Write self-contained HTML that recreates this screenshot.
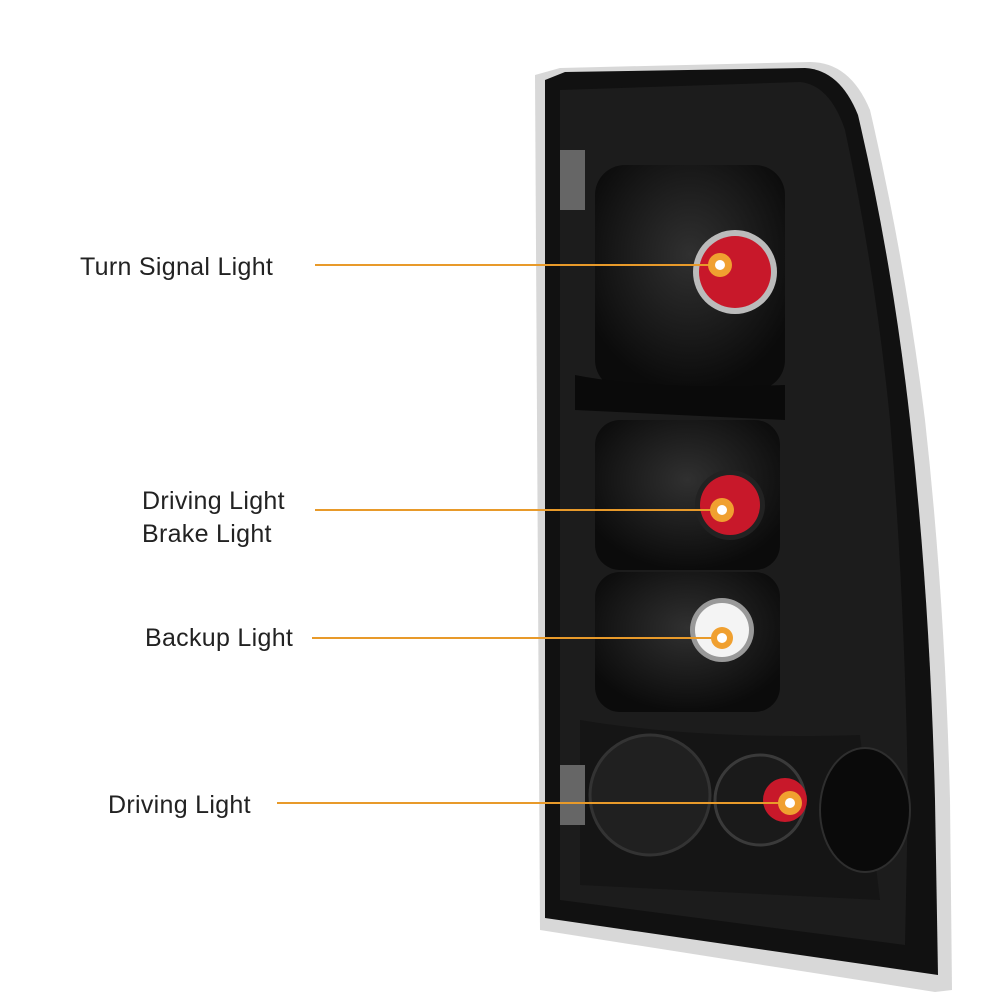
<!DOCTYPE html>
<html><head><style>
html,body{margin:0;padding:0;background:#fff;width:1000px;height:1000px;overflow:hidden}
.l{position:absolute;font-family:"Liberation Sans",sans-serif;font-size:25px;color:#222;letter-spacing:0.3px}
</style></head><body>
<svg width="1000" height="1000" style="position:absolute;left:0;top:0">
<defs>
<radialGradient id="g1" cx="50%" cy="40%" r="60%"><stop offset="0" stop-color="#303030"/><stop offset="1" stop-color="#0b0b0b"/></radialGradient>
</defs>
<path d="M535 75 L560 68 L810 62 Q850 62 870 110 Q905 260 925 420 Q945 600 950 800 L952 990 L935 992 L540 930 Z" fill="#d8d8d8"/>
<path d="M545 80 L565 72 L805 68 Q840 70 858 115 Q892 260 910 420 Q930 600 935 800 L938 975 L545 918 Z" fill="#111"/>
<path d="M560 90 L800 82 Q830 85 845 130 Q875 270 890 420 Q905 600 908 800 L905 945 L560 900 Z" fill="#1c1c1c"/>
<rect x="595" y="165" width="190" height="225" rx="30" fill="url(#g1)"/>
<rect x="595" y="420" width="185" height="150" rx="25" fill="url(#g1)"/>
<rect x="595" y="572" width="185" height="140" rx="25" fill="url(#g1)"/>
<path d="M575 375 Q650 390 785 385 L785 420 L575 410Z" fill="#0a0a0a"/>
<path d="M580 720 Q700 740 860 735 L880 900 L580 885Z" fill="#151515"/>
<circle cx="650" cy="795" r="60" fill="#202020" stroke="#333" stroke-width="3"/>
<circle cx="760" cy="800" r="45" fill="#1a1a1a" stroke="#3a3a3a" stroke-width="3"/>
<ellipse cx="865" cy="810" rx="45" ry="62" fill="#0a0a0a" stroke="#2e2e2e" stroke-width="2"/>
<rect x="560" y="150" width="25" height="60" fill="#666"/>
<rect x="560" y="765" width="25" height="60" fill="#666"/>
<circle cx="735" cy="272" r="42" fill="#bbb"/><circle cx="735" cy="272" r="36" fill="#c8182a"/>
<circle cx="730" cy="505" r="35" fill="#222"/><circle cx="730" cy="505" r="30" fill="#c8182a"/>
<circle cx="722" cy="630" r="32" fill="#999"/><circle cx="722" cy="630" r="27" fill="#f4f4f4"/>
<circle cx="785" cy="800" r="22" fill="#c8182a"/>
<g stroke="#e89a2a" stroke-width="2">
<line x1="315" y1="265" x2="720" y2="265"/>
<line x1="315" y1="510" x2="722" y2="510"/>
<line x1="312" y1="638" x2="722" y2="638"/>
<line x1="277" y1="803" x2="790" y2="803"/>
</g>
<g fill="#f0a030"><circle cx="720" cy="265" r="12"/><circle cx="722" cy="510" r="12"/><circle cx="722" cy="638" r="11"/><circle cx="790" cy="803" r="12"/></g>
<g fill="#fff"><circle cx="720" cy="265" r="5"/><circle cx="722" cy="510" r="5"/><circle cx="722" cy="638" r="5"/><circle cx="790" cy="803" r="5"/></g>
</svg>
<div class="l" style="left:80px;top:253px">Turn Signal Light</div>
<div class="l" style="left:142px;top:487px">Driving Light</div>
<div class="l" style="left:142px;top:520px">Brake Light</div>
<div class="l" style="left:145px;top:624px">Backup Light</div>
<div class="l" style="left:108px;top:791px">Driving Light</div>
</body></html>
